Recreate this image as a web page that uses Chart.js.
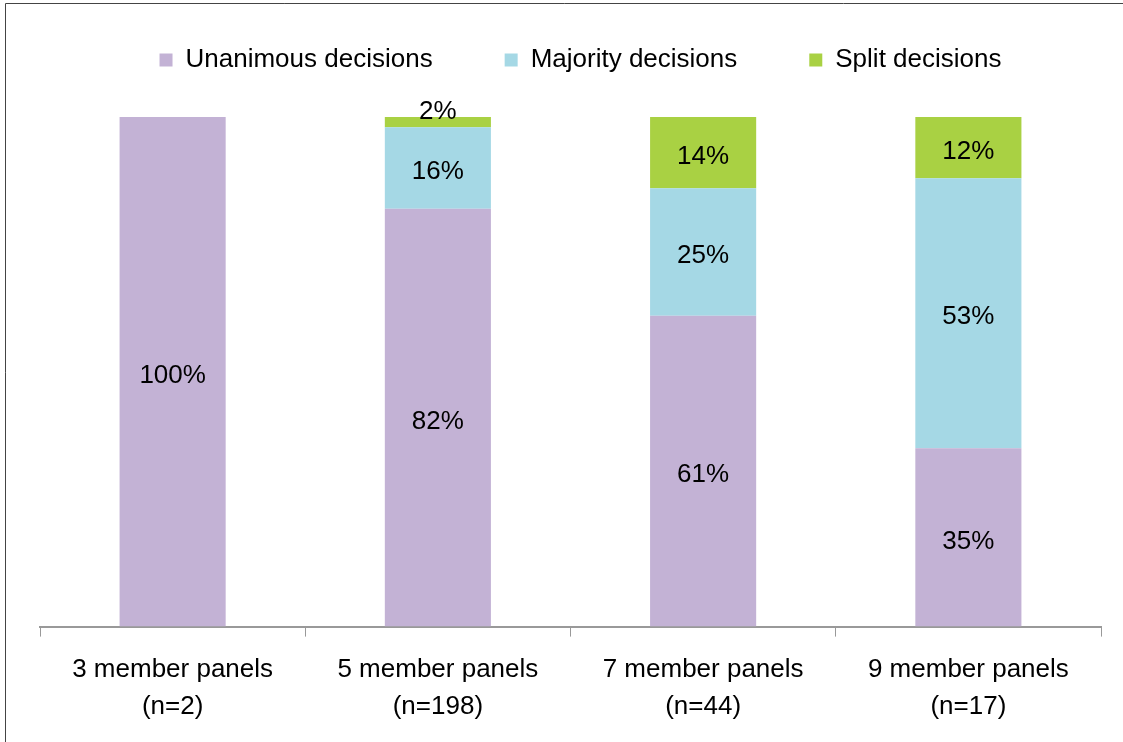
<!DOCTYPE html>
<html lang="en">
<head>
    <meta charset="UTF-8">
    <title>Decisions by panel size</title>
    <script src="https://cdn.jsdelivr.net/npm/chart.js"></script>
    <style>
        body { margin: 0; background: #fff; }
        .container { width: 1123px; height: 742px; position: relative; }
    </style>
</head>
<body>
    <div class="container">
        <canvas id="panelGraph" width="1123" height="742"></canvas>
    </div>

    <script>
        // Data (percent of decisions)
        const panelLabels = [
            ['3 member panels', '(n=2)'],
            ['5 member panels', '(n=198)'],
            ['7 member panels', '(n=44)'],
            ['9 member panels', '(n=17)']
        ];
        const unanimous = [100, 82, 61, 35];
        const majority = [null, 16, 25, 53];
        const split = [null, 2, 14, 12];

        const FONT = "'Liberation Sans', Arial, sans-serif";

        // draws the % values in the middle of each segment
        const valueLabels = {
            id: 'valueLabels',
            afterDatasetsDraw(chart) {
                const ctx = chart.ctx;
                ctx.save();
                ctx.font = '26px ' + FONT;
                ctx.fillStyle = '#000';
                ctx.textAlign = 'center';
                ctx.textBaseline = 'middle';
                chart.data.datasets.forEach((ds, i) => {
                    chart.getDatasetMeta(i).data.forEach((bar, j) => {
                        const v = ds.data[j];
                        if (v == null) return;
                        const h = bar.base - bar.y;
                        // thin segments: label sits on top of the bar
                        const y = h < 20 ? bar.y - 5 : (bar.y + bar.base) / 2 + 4;
                        ctx.fillText(v + '%', bar.x, y);
                    });
                });
                ctx.restore();
            }
        };

        // extra room between the legend and the bars, and nudge the legend into place
        const legendTweak = {
            id: 'legendTweak',
            beforeInit(chart) {
                const legend = chart.legend;
                const fit = legend.fit;
                legend.fit = function () {
                    fit.call(this);
                    this.height += 9;
                };
                const draw = legend.draw;
                legend.draw = function () {
                    this.ctx.save();
                    this.ctx.translate(10, -25);
                    draw.call(this);
                    this.ctx.restore();
                };
            }
        };

        // the frame that the figure sits in (left and top edges)
        const frame = {
            id: 'frame',
            afterDraw(chart) {
                const ctx = chart.ctx;
                ctx.save();
                ctx.strokeStyle = '#444';
                ctx.lineWidth = 1;
                ctx.beginPath();
                ctx.moveTo(5.5, 742);
                ctx.lineTo(5.5, 3.5);
                ctx.lineTo(1123, 3.5);
                ctx.stroke();
                ctx.restore();
            }
        };

        const config = {
            type: 'bar',
            data: {
                labels: panelLabels,
                datasets: [
                    { label: 'Unanimous decisions', data: unanimous, backgroundColor: '#c3b2d5' },
                    { label: 'Majority decisions', data: majority, backgroundColor: '#a5d8e5' },
                    { label: 'Split decisions', data: split, backgroundColor: '#a9d143' }
                ]
            },
            options: {
                responsive: false,
                animation: false,
                barPercentage: 0.4,
                categoryPercentage: 1.0,
                layout: { padding: { left: 40, right: 22, top: 0, bottom: 2 } },
                plugins: {
                    legend: {
                        position: 'top',
                        labels: {
                            font: { family: FONT, size: 26 },
                            color: '#000',
                            boxWidth: 13,
                            boxHeight: 13,
                            padding: 72
                        }
                    },
                    tooltip: { enabled: false }
                },
                scales: {
                    x: {
                        stacked: true,
                        grid: { offset: true, drawOnChartArea: false, tickLength: 10, color: '#999' },
                        border: { color: '#999', width: 2 },
                        ticks: {
                            color: '#000',
                            font: { family: FONT, size: 26, lineHeight: 1.45 },
                            padding: 14
                        }
                    },
                    y: {
                        stacked: true,
                        display: false,
                        min: 0,
                        max: 100
                    }
                }
            },
            plugins: [valueLabels, legendTweak, frame]
        };

        new Chart(document.getElementById('panelGraph'), config);
    </script>
</body>
</html>
